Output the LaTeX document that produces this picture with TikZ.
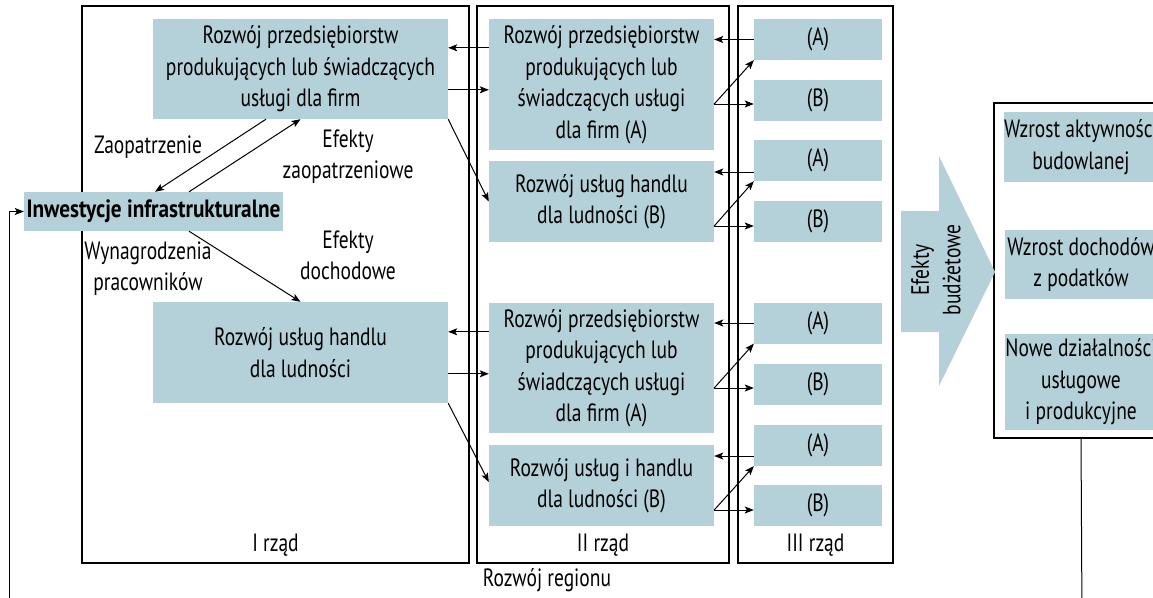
\documentclass[tikz,border=0pt]{standalone}
\usepackage{fontspec}
\setmainfont{PT Sans}[FakeStretch=0.78, BoldFeatures={FakeStretch=0.85}]
\usetikzlibrary{arrows.meta,calc}
\definecolor{boxfill}{RGB}{180,208,216}
\tikzset{
  txt/.style={font=\fontsize{25}{31.5}\selectfont, align=center, inner sep=0pt},
  blue/.style={txt, fill=boxfill, minimum width=#1},
  frame/.style={draw=black, line width=2.4pt},
  arr/.style={line width=1pt, -{Stealth[length=9pt,width=7pt,inset=2pt]}},
  ln/.style={line width=1pt},
}
\begin{document}
\begin{tikzpicture}[x=1pt,y=-1pt]
\useasboundingbox (0,0) rectangle (1153,597);
\clip (0,0) rectangle (1153,597);

% order frames
\draw[frame] (82,6) rectangle (469,563);
\draw[frame] (477,6) rectangle (729,563);
\draw[frame] (738,6) rectangle (893,563);
\node[txt] (r1) at (275.5,545) {I rząd};
\node[txt] (r2) at (603,545) {II rząd};
\node[txt] (r3) at (815.5,545) {III rząd};
\node[txt] (reg) at (547,580) {Rozwój regionu};

% first order
\node[blue=295pt, minimum height=100pt] (I1) at (300.5,69)
  {Rozwój przedsiębiorstw\\produkujących lub świadczących\\usługi dla firm};
\node[blue=259pt, minimum height=39pt, font=\fontsize{25}{31.5}\selectfont\bfseries] (inw) at (153.5,211.5)
  {Inwestycje infrastrukturalne};
\node[blue=295pt, minimum height=101pt] (I2) at (300.5,352.5)
  {Rozwój usług handlu\\dla ludności};

\node[txt] (lzaop) at (148,147) {Zaopatrzenie};
\node[txt] (lefz) at (348,156.5) {Efekty\\zaopatrzeniowe};
\node[txt] (lefd) at (348,255.5) {Efekty\\dochodowe};
\node[txt] (lwyn) at (148,268.5) {Wynagrodzenia\\pracowników};

% second order
\node[blue=225pt, minimum height=131pt] (II1) at (601.5,84.5)
  {Rozwój przedsiębiorstw\\produkujących lub\\świadczących usługi\\dla firm (A)};
\node[blue=225pt, minimum height=81pt] (II2) at (601.5,201.5)
  {Rozwój usług handlu\\dla ludności (B)};
\node[blue=225pt, minimum height=130pt] (II3) at (601.5,368)
  {Rozwój przedsiębiorstw\\produkujących lub\\świadczących usługi\\dla firm (A)};
\node[blue=225pt, minimum height=81pt] (II4) at (601.5,485.5)
  {Rozwój usług i handlu\\dla ludności (B)};

% third order
\foreach \n/\c/\t in {1/39.5/(A), 2/100/(B), 3/160.5/(A), 4/221.5/(B),
                      5/323/(A), 6/384/(B), 7/445.5/(A), 8/505.5/(B)}
  \node[blue=128pt, minimum height=41pt] (III\n) at (818,\c) {\t};

% budget effects
\draw[frame] (994,103) rectangle (1168,438);
\node[inner sep=0pt, minimum width=174pt, minimum height=335pt] (R) at (1081,270.5) {};
\node[blue=152pt, minimum height=70pt] (R1) at (1081,147) {Wzrost aktywności\\budowlanej};
\node[blue=152pt, minimum height=69pt] (R2) at (1081,264.5) {Wzrost dochodów\\z podatków};
\node[blue=152pt, minimum height=96pt] (R3) at (1081,382) {Nowe działalności\\usługowe\\i produkcyjne};

\fill[boxfill] (901,211) -- (939,211) -- (939,156) -- (995,272) -- (939,386)
  -- (939,332) -- (901,332) -- cycle;
\node[txt, rotate=90] (bud) at (936,270) {Efekty\\budżetowe};

% links inside the first order
\draw[arr] ([xshift=-34.5pt]I1.south) -- ([xshift=1.5pt]inw.north);
\draw[arr] ([xshift=35.5pt]inw.north) -- (I1.south);
\draw[arr] ([xshift=35.5pt]inw.south) -- (I2.north);

% first <-> second order
\draw[arr] ([yshift=-29pt]II1.north west) -- ([yshift=-29pt]I1.north east);
\draw[arr] ([yshift=-71pt]I1.north east) -- ([yshift=-71pt]II1.north west);
\draw[arr] (I1.south east) -- (II2.west);
\draw[arr] ([yshift=-29pt]II3.north west) coordinate (t1) -- (I2.east |- t1);
\draw[arr] ([yshift=-72pt]I2.north east) coordinate (t2) -- (II3.west |- t2);
\draw[arr] (I2.south east) -- ([yshift=3.5pt]II4.west);

% second <-> third order
\draw[arr] (III1.west) -- (II1.east |- III1.west);
\draw[arr] ([yshift=-19.5pt]II1.east) coordinate (s1) -- (III1.south west);
\draw[arr] (s1) -- (III2.west |- s1);
\draw[arr] ([yshift=-11.5pt]III3.west) coordinate (s2) -- (II2.east |- s2);
\draw[arr] ([yshift=-24.5pt]II2.east) coordinate (s3) -- (III3.south west);
\draw[arr] (s3) -- (III4.west |- s3);
\draw[arr] (III5.west) -- (II3.east |- III5.west);
\draw[arr] ([yshift=-20pt]II3.east) coordinate (s4) -- (III5.south west);
\draw[arr] (s4) -- (III6.west |- s4);
\draw[arr] ([yshift=-10.5pt]III7.west) coordinate (s5) -- (II4.east |- s5);
\draw[arr] ([yshift=-24.5pt]II4.east) coordinate (s6) -- (III7.south west);
\draw[arr] (s6) -- (III8.west |- s6);

% feedback to the investments
\coordinate (fbR) at (1082,620);
\coordinate (fbL) at (9,620);
\draw[ln] (R.south) -- (fbR) -- (fbL);
\draw[arr] (fbL) |- (inw.west);
\end{tikzpicture}
\end{document}
